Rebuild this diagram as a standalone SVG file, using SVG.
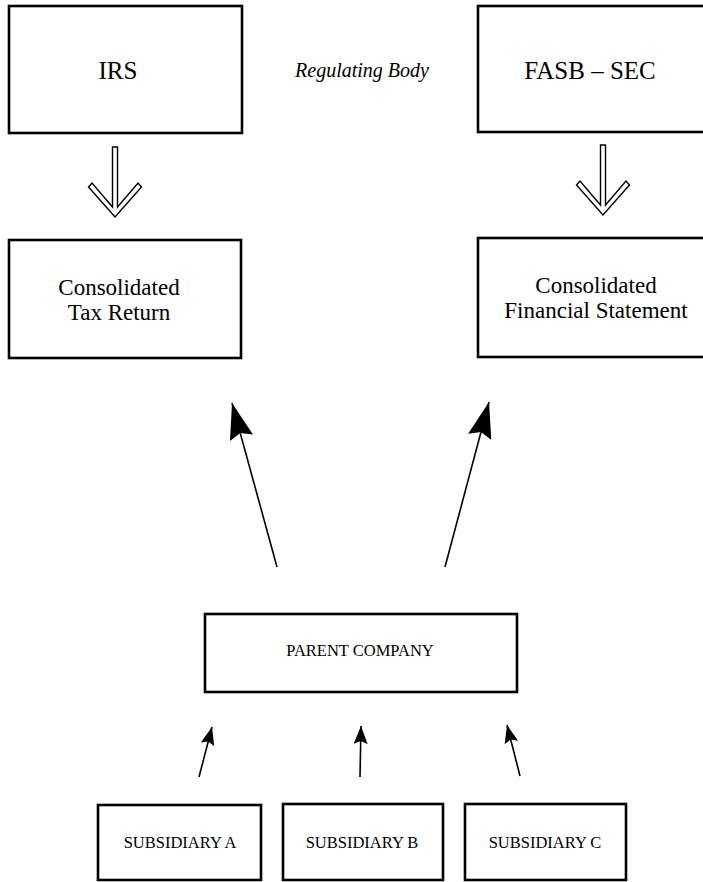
<svg xmlns="http://www.w3.org/2000/svg" width="703" height="882" viewBox="0 0 703 882">
<style>
.box{fill:#fff;stroke:#000;stroke-width:2.6}
.t{font-family:"Liberation Serif","Times New Roman",serif;fill:#000;text-anchor:middle}
.big{font-size:25px}
.mid{font-size:23px}
.sm{font-size:16.5px}
.ln{stroke:#000;stroke-width:1.6;fill:none}
.hol{fill:#fff;stroke:#000;stroke-width:1.4;stroke-linejoin:miter}
</style>
<defs>
<marker id="bigHead" markerUnits="userSpaceOnUse" viewBox="0 -12 36 24" refX="36" refY="0" markerWidth="36" markerHeight="24" orient="auto">
<path d="M0,-12 L36,0 L0,12 L5,0 Z" fill="#000"/>
</marker>
<marker id="smHead" markerUnits="userSpaceOnUse" viewBox="0 -7 18 14" refX="18" refY="0" markerWidth="18" markerHeight="14" orient="auto">
<path d="M0,-7 L18,0 L0,7 L3,0 Z" fill="#000"/>
</marker>
</defs>
<rect width="703" height="882" fill="#fff"/>

<g id="irs">
<rect class="box" x="9" y="6" width="233" height="127"/>
<text class="t big" x="118" y="79">IRS</text>
</g>
<g id="regulating-body">
<text class="t" x="362" y="77" font-size="20" font-style="italic">Regulating Body</text>
</g>
<g id="fasb-sec">
<rect class="box" x="478" y="6" width="240" height="126"/>
<text class="t big" x="590" y="79">FASB – SEC</text>
</g>
<g id="tax-return">
<rect class="box" x="9" y="240" width="232" height="118"/>
<text class="t mid" x="119" y="295">Consolidated</text>
<text class="t mid" x="119" y="320">Tax Return</text>
</g>
<g id="financial-statement">
<rect class="box" x="478" y="238" width="240" height="119"/>
<text class="t mid" x="596" y="293">Consolidated</text>
<text class="t mid" x="596" y="318">Financial Statement</text>
</g>
<g id="parent-company">
<rect class="box" x="205" y="614" width="312" height="78"/>
<text class="t sm" x="360" y="656">PARENT COMPANY</text>
</g>
<g id="subsidiary-a">
<rect class="box" x="98" y="805" width="163" height="75"/>
<text class="t sm" x="180" y="848">SUBSIDIARY A</text>
</g>
<g id="subsidiary-b">
<rect class="box" x="283" y="804" width="160" height="76"/>
<text class="t sm" x="362" y="848">SUBSIDIARY B</text>
</g>
<g id="subsidiary-c">
<rect class="box" x="465" y="804" width="161" height="76"/>
<text class="t sm" x="545" y="848">SUBSIDIARY C</text>
</g>

<g id="connectors">
<path class="hol" d="M112.5,147 L117.5,147 L117.5,207 L138,183 L141.5,187 L115,217 L88.5,187 L92,183 L112.5,207 Z"/>
<path class="hol" d="M600.5,145 L605.5,145 L605.5,205 L626,181 L629.5,185 L603,215 L576.5,185 L580,181 L600.5,205 Z"/>
<line class="ln" x1="277" y1="567" x2="232" y2="403" marker-end="url(#bigHead)"/>
<line class="ln" x1="445" y1="567" x2="489" y2="402" marker-end="url(#bigHead)"/>
<line class="ln" x1="199" y1="777" x2="212" y2="727" marker-end="url(#smHead)"/>
<line class="ln" x1="360" y1="777" x2="361" y2="726" marker-end="url(#smHead)"/>
<line class="ln" x1="520" y1="776" x2="507" y2="725" marker-end="url(#smHead)"/>
</g>
</svg>
